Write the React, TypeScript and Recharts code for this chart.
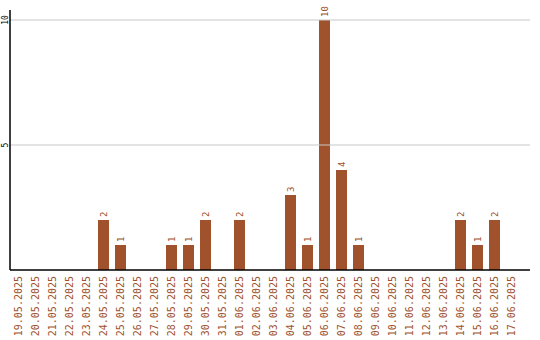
import { BarChart, Bar, XAxis, YAxis, ReferenceLine, LabelList } from "recharts";

const dates = [
  "19.05.2025", "20.05.2025", "21.05.2025", "22.05.2025", "23.05.2025",
  "24.05.2025", "25.05.2025", "26.05.2025", "27.05.2025", "28.05.2025",
  "29.05.2025", "30.05.2025", "31.05.2025", "01.06.2025", "02.06.2025",
  "03.06.2025", "04.06.2025", "05.06.2025", "06.06.2025", "07.06.2025",
  "08.06.2025", "09.06.2025", "10.06.2025", "11.06.2025", "12.06.2025",
  "13.06.2025", "14.06.2025", "15.06.2025", "16.06.2025", "17.06.2025",
];

const counts = [
  0, 0, 0, 0, 0,
  2, 1, 0, 0, 1,
  1, 2, 0, 2, 0,
  0, 3, 1, 10, 4,
  1, 0, 0, 0, 0,
  0, 2, 1, 2, 0,
];

const yTicks = [5, 10];

const data = dates.map((d, i) => ({ date: d, count: counts[i] }));

const BROWN = "#A0522D";
const MONO = "'DejaVu Sans Mono', monospace";

function DateTick(props: any) {
  const { x, y, payload } = props;
  const ty = y - 2;
  return (
    <text
      x={x}
      y={ty}
      transform={`rotate(-90 ${x} ${ty})`}
      textAnchor="end"
      dominantBaseline="central"
      fill={BROWN}
      fontSize={10}
      fontFamily={MONO}
    >
      {payload.value}
    </text>
  );
}

function CountTick(props: any) {
  const { y, payload } = props;
  return (
    <text
      x={5.5}
      y={y}
      transform={`rotate(-90 5.5 ${y})`}
      textAnchor="middle"
      dominantBaseline="central"
      fill="#000"
      fontSize={8}
      fontFamily={MONO}
    >
      {payload.value}
    </text>
  );
}

function BarValue(props: any) {
  const { x, y, width, value } = props;
  if (!value) return null;
  const cx = x + width / 2;
  const cy = y - 3;
  return (
    <text
      x={cx}
      y={cy}
      transform={`rotate(-90 ${cx} ${cy})`}
      textAnchor="start"
      dominantBaseline="central"
      fill={BROWN}
      fontSize={9}
      fontFamily={MONO}
    >
      {value}
    </text>
  );
}

export default function App() {
  return (
    <div style={{ position: "absolute", left: 0, top: 0, width: 540, height: 340, background: "#fff" }}>
      <BarChart
        width={540}
        height={340}
        data={data}
        margin={{ top: 10, right: 10, bottom: 0, left: 0 }}
        barCategoryGap={3}
      >
        {yTicks.map((t) => (
          <ReferenceLine key={t} y={t} stroke="#c8c8c8" />
        ))}
        <XAxis
          dataKey="date"
          interval={0}
          height={70}
          padding={{ left: 0, right: 10 }}
          tickLine={false}
          axisLine={{ stroke: "#000", strokeWidth: 1.5 }}
          tick={<DateTick />}
        />
        <YAxis
          width={10}
          domain={[0, 10.4]}
          ticks={yTicks}
          tickLine={false}
          axisLine={{ stroke: "#000", strokeWidth: 1.5 }}
          tick={<CountTick />}
        />
        <Bar dataKey="count" fill={BROWN} isAnimationActive={false}>
          <LabelList dataKey="count" content={<BarValue />} />
        </Bar>
      </BarChart>
    </div>
  );
}
